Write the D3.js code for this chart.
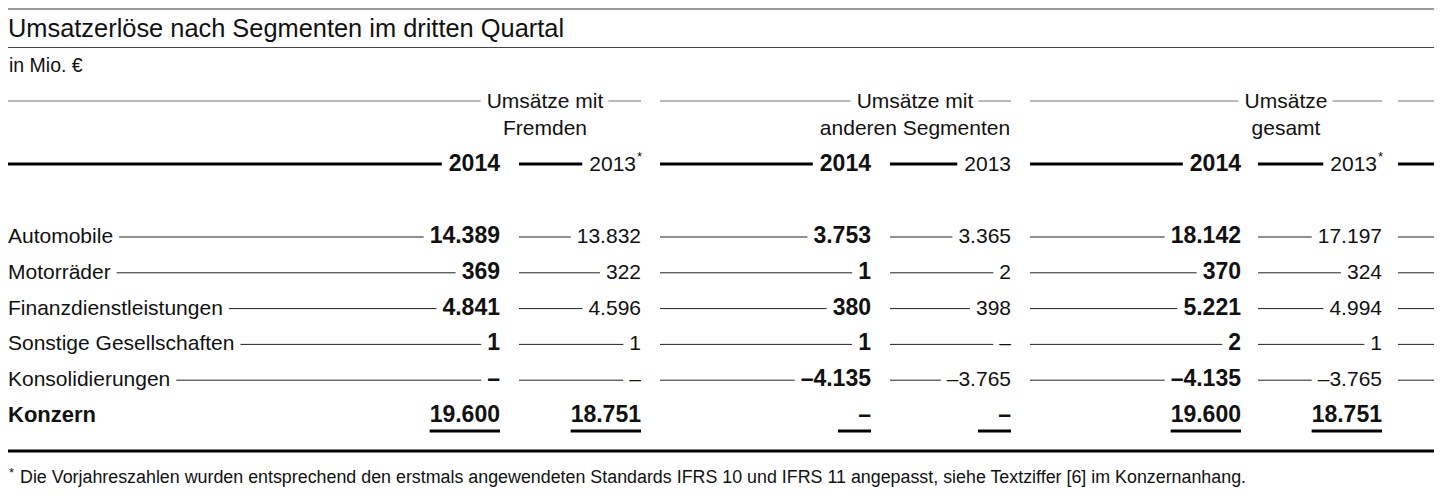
<!DOCTYPE html>
<html>
<head>
<meta charset="utf-8">
<script src="https://cdn.jsdelivr.net/npm/d3@7"></script>
<style>
  body { margin: 0; background: #fff; }
  svg text { font-family: "Liberation Sans", Arial, sans-serif; fill: #111; }
</style>
</head>
<body>
<script>
// table data
const title = "Umsatzerlöse nach Segmenten im dritten Quartal";
const unit = "in Mio. €";
const rowLabels = ["Automobile", "Motorräder", "Finanzdienstleistungen", "Sonstige Gesellschaften", "Konsolidierungen", "Konzern"];
const groupLabels = [["Umsätze mit", "Fremden"], ["Umsätze mit", "anderen Segmenten"], ["Umsätze", "gesamt"]];
const yearLabels = ["2014", "2013", "2014", "2013", "2014", "2013"];
const yearStar = [false, true, false, false, false, true];
const fremden2014 = [14389, 369, 4841, 1, 0, 19600];
const fremden2013 = [13832, 322, 4596, 1, 0, 18751];
const andere2014 = [3753, 1, 380, 1, -4135, 0];
const andere2013 = [3365, 2, 398, 0, -3765, 0];
const gesamt2014 = [18142, 370, 5221, 2, -4135, 19600];
const gesamt2013 = [17197, 324, 4994, 1, -3765, 18751];
const footnote = "Die Vorjahreszahlen wurden entsprechend den erstmals angewendeten Standards IFRS 10 und IFRS 11 angepasst, siehe Textziffer [6] im Konzernanhang.";

const columns = [fremden2014, fremden2013, andere2014, andere2013, gesamt2014, gesamt2013];

// layout
const W = 1446, H = 502;
const left = 8, right = 1434;
const colLeft  = [8, 519, 660, 890, 1030, 1258];
const colRight = [500, 641, 871, 1011, 1241, 1382];
const trail = [1398, right];
const gap = 6;

const de = d3.formatLocale({decimal: ",", thousands: ".", grouping: [3], currency: ["", " €"], minus: "\u2013"});
const fmt = v => v === 0 ? "\u2013" : de.format(",d")(v);

const svg = d3.select("body").append("svg")
  .attr("width", W)
  .attr("height", H);

const y = d3.scalePoint()
  .domain(rowLabels)
  .range([243, 422]);

function hline(x1, x2, yy, w, col) {
  if (x2 - x1 < 1) return;
  svg.append("line")
    .attr("x1", x1).attr("x2", x2)
    .attr("y1", yy).attr("y2", yy)
    .attr("stroke", col)
    .attr("stroke-width", w);
}

// top rules and title
hline(left, right, 9, 2, "#9a9a9a");
svg.append("text")
  .attr("x", left).attr("y", 37)
  .style("font-size", "25.4px")
  .text(title);
hline(left, right, 47.5, 1, "#444");
svg.append("text")
  .attr("x", left + 1).attr("y", 72)
  .style("font-size", "19.5px")
  .text(unit);

// group headers
groupLabels.forEach((g, i) => {
  const gl = i === 0 ? left : colLeft[i * 2];
  const gr = colRight[i * 2 + 1];
  const cx = gr - 96;
  const t1 = svg.append("text")
    .attr("x", cx).attr("y", 107.5)
    .attr("text-anchor", "middle")
    .style("font-size", "21px")
    .text(g[0]);
  svg.append("text")
    .attr("x", cx).attr("y", 134.5)
    .attr("text-anchor", "middle")
    .style("font-size", "21px")
    .text(g[1]);
  const w = t1.node().getComputedTextLength();
  hline(gl, cx - w / 2 - 6, 101, 1, "#777");
  hline(cx + w / 2 + 5, gr, 101, 1, "#777");
});
hline(trail[0], trail[1], 101, 1, "#777");

// year row
yearLabels.forEach((yr, i) => {
  const bold = i % 2 === 0;
  const shift = yearStar[i] ? -5 : 0;
  const t = svg.append("text")
    .attr("x", colRight[i] + shift).attr("y", 170.5)
    .attr("text-anchor", "end")
    .style("font-size", bold ? "23px" : "21px")
    .style("font-weight", bold ? "bold" : "normal")
    .text(yr);
  const w = t.node().getComputedTextLength();
  if (yearStar[i]) {
    svg.append("text")
      .attr("x", colRight[i] + shift + 1).attr("y", 161)
      .style("font-size", "13px")
      .text("*");
  }
  hline(colLeft[i], colRight[i] + shift - w - 7, 164, 3, "#000");
});
hline(trail[0], trail[1], 164, 3, "#000");

// body rows
rowLabels.forEach((lab, r) => {
  const by = y(lab);
  const total = r === rowLabels.length - 1;
  const lt = svg.append("text")
    .attr("x", left).attr("y", by)
    .style("font-size", total ? "22px" : "21px")
    .style("font-weight", total ? "bold" : "normal")
    .text(lab);
  const lw = lt.node().getComputedTextLength();

  columns.forEach((col, i) => {
    const bold = i % 2 === 0 || total;
    const t = svg.append("text")
      .attr("x", colRight[i]).attr("y", by)
      .attr("text-anchor", "end")
      .style("font-size", bold ? "23px" : "21px")
      .style("font-weight", bold ? "bold" : "normal")
      .text(fmt(col[r]));
    const w = t.node().getComputedTextLength();
    if (total) {
      const uw = Math.max(w, 33);
      hline(colRight[i] - uw, colRight[i], 431, 3, "#000");
    } else {
      const x1 = i === 0 ? left + lw + gap : colLeft[i];
      hline(x1, colRight[i] - w - gap, by - 6, 1, "#222");
    }
  });
  if (!total) hline(trail[0], trail[1], by - 6, 1, "#222");
});

// bottom rule and footnote
hline(left, right, 451, 3, "#000");
svg.append("text")
  .attr("x", left + 1).attr("y", 477)
  .style("font-size", "13px")
  .text("*");
svg.append("text")
  .attr("x", 20).attr("y", 483)
  .style("font-size", "17.85px")
  .text(footnote);
</script>
</body>
</html>
